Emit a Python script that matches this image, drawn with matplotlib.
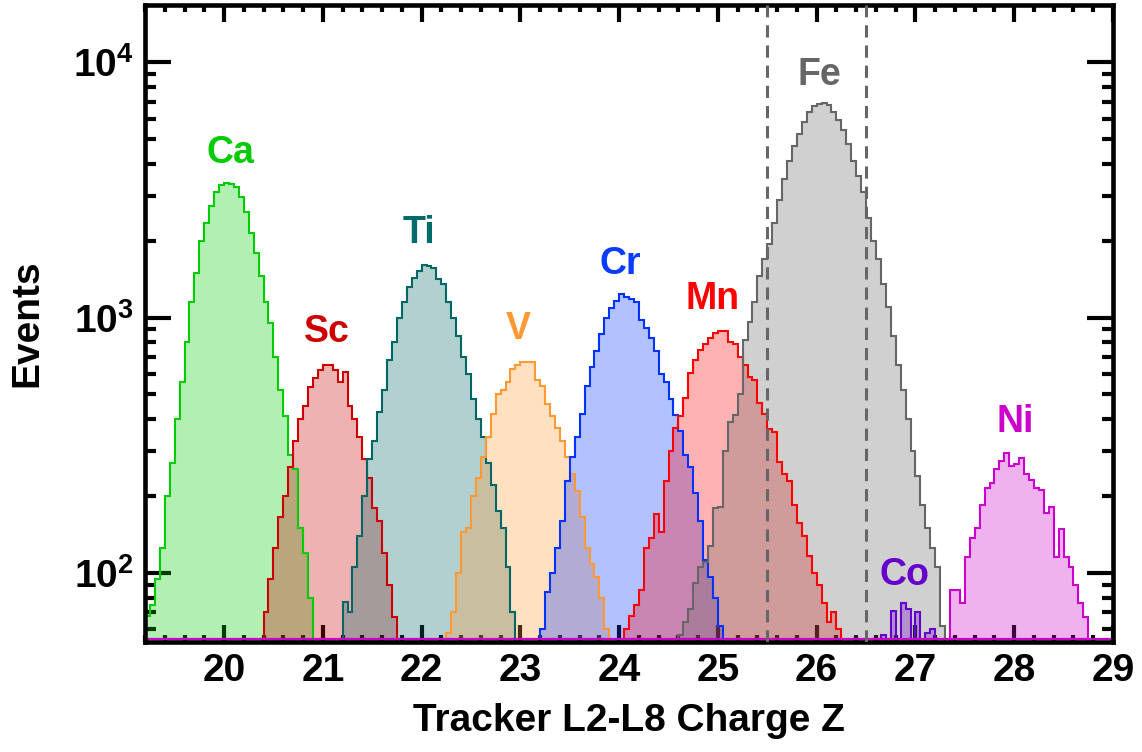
#!/usr/bin/env python3
"""
Tracker L2-L8 charge distributions for Z = 20..28 (Ca to Ni), log scale.
"""

import numpy as np
import matplotlib
matplotlib.use("Agg")
import matplotlib.pyplot as plt

plt.rcParams['font.family'] = ['Liberation Sans', 'DejaVu Sans']
plt.rcParams['font.weight'] = 'bold'
plt.rcParams['mathtext.fontset'] = 'custom'
plt.rcParams['mathtext.rm'] = 'Liberation Sans:bold'
plt.rcParams['mathtext.bf'] = 'Liberation Sans:bold'

BIN_WIDTH = 0.05

# element names, colours and where each histogram starts (Z of the first bin)
elements = ['Ca', 'Sc', 'Ti', 'V', 'Cr', 'Mn', 'Fe', 'Co', 'Ni']
colors = ['#00cc00', '#cc0000', '#006666', '#ff9933', '#0033ff',
          '#ff0000', '#666666', '#6600cc', '#cc00cc']
label_colors = ['#00cc00', '#cc0000', '#006b6b', '#ff9933', '#0a3cff',
                '#ff0000', '#666666', '#6600cc', '#cc00cc']
first_bin = [19.20, 20.40, 21.20, 22.25, 23.20, 24.05, 24.60, 26.60, 27.35]

# bin contents (events per 0.05 in Z)
ca_counts = [68, 75, 95, 125, 200, 270, 400, 560, 800, 1150, 1500, 2000,
             2350, 2750, 3100, 3300, 3380, 3350, 3250, 2980, 2600, 2150,
             1800, 1450, 1150, 950, 700, 520, 410, 290, 255, 150, 120, 80]
sc_counts = [70, 95, 125, 165, 200, 260, 330, 400, 450, 535, 580, 625, 650,
             655, 625, 560, 610, 450, 400, 340, 280, 235, 180, 160, 120, 90,
             67]
ti_counts = [77, 70, 105, 140, 200, 280, 330, 425, 520, 680, 800, 1000,
             1150, 1320, 1430, 1530, 1610, 1600, 1560, 1420, 1360, 1150,
             1000, 850, 700, 600, 480, 400, 340, 270, 220, 175, 150, 105, 70]
v_counts = [58, 70, 100, 145, 150, 200, 235, 285, 340, 420, 500, 520, 560,
            630, 650, 670, 670, 672, 570, 540, 460, 410, 370, 330, 285, 245,
            210, 165, 125, 108, 96, 80, 60]
cr_counts = [60, 84, 100, 125, 160, 230, 285, 340, 420, 540, 640, 740, 860,
             1000, 1090, 1160, 1240, 1200, 1180, 1150, 980, 910, 830, 740,
             600, 560, 480, 415, 360, 290, 260, 205, 160, 112, 96, 80, 62]
mn_counts = [60, 68, 75, 86, 125, 137, 170, 145, 230, 300, 370, 410, 485,
             605, 680, 745, 790, 830, 870, 885, 890, 800, 790, 700, 655, 585,
             570, 465, 420, 365, 355, 273, 245, 230, 185, 157, 140, 116, 100,
             90, 76, 64, 70, 60]
fe_counts = [57, 64, 72, 91, 105, 110, 128, 180, 181, 300, 390, 415, 500,
             820, 960, 1150, 1450, 1700, 1950, 2350, 2900, 3500, 4100, 4700,
             5250, 5850, 6400, 6750, 6900, 6960, 6800, 6400, 5950, 5450, 4800,
             4100, 3600, 3100, 2450, 2000, 1700, 1350, 1100, 850, 650, 520,
             400, 300, 240, 185, 150, 125, 105, 62]
co_counts = [55, 57, 40, 71, 55, 76, 72, 50, 70, 45, 58, 60, 40]
ni_counts = [86, 86, 76, 115, 137, 150, 185, 215, 225, 255, 275, 295, 262,
             268, 283, 245, 232, 215, 212, 172, 181, 115, 148, 115, 105, 90,
             76, 67]
all_counts = [ca_counts, sc_counts, ti_counts, v_counts, cr_counts,
              mn_counts, fe_counts, co_counts, ni_counts]

# text label anchors (Z, events)
label_x = [20.06, 21.04, 21.97, 22.98, 24.01, 24.95, 26.03, 26.89, 28.01]
label_y = [4400, 880, 2150, 900, 1620, 1180, 8900, 98, 390]

fe_window = [25.5, 26.5]

x_ticks = [20, 21, 22, 23, 24, 25, 26, 27, 28, 29]
y_ticks = [1e2, 1e3, 1e4]
y_tick_labels = [r'$\mathbf{10^{2}}$', r'$\mathbf{10^{3}}$', r'$\mathbf{10^{4}}$']

X_MIN, X_MAX = 19.2, 29.0
Y_MIN, Y_MAX = 53.6, 16800


fig = plt.figure(figsize=(11.42, 7.52), dpi=100)
ax = fig.add_axes([0.127, 0.1463, 0.8476, 0.8471])
ax.set_yscale('log')

for name, col, start, counts in zip(elements, colors, first_bin, all_counts):
    edges = start + BIN_WIDTH * np.arange(len(counts) + 1)
    ax.stairs(counts, edges, baseline=1, fill=True, color=col,
              alpha=0.3, linewidth=0, zorder=2.6)
    ax.stairs(counts, edges, baseline=1, fill=False, color=col,
              linewidth=1.5, zorder=2.7)

# empty bins drawn along the bottom by the last histogram
ax.axhline(Y_MIN * 1.025, color=colors[-1], linewidth=1.6, zorder=2.7)

for xv in fe_window:
    ax.axvline(xv, color='#666666', linestyle=(0, (4, 2.6)),
               linewidth=2.2, zorder=4)

for name, col, lx, ly in zip(elements, label_colors, label_x, label_y):
    ax.text(lx, ly, name, color=col, fontsize=27, fontweight='bold',
            ha='center', va='center', zorder=5)

ax.set_xlim(X_MIN, X_MAX)
ax.set_ylim(Y_MIN, Y_MAX)

ax.set_xticks(x_ticks)
ax.set_xticklabels([str(t) for t in x_ticks])
ax.xaxis.set_minor_locator(matplotlib.ticker.MultipleLocator(0.2))
ax.set_yticks(y_ticks)
ax.set_yticklabels(y_tick_labels)
ax.yaxis.set_minor_locator(matplotlib.ticker.LogLocator(base=10, subs=np.arange(2, 10)))
ax.yaxis.set_minor_formatter(matplotlib.ticker.NullFormatter())

ax.tick_params(axis='x', which='major', direction='in', top=True, bottom=True,
               length=12.5, width=3, labelsize=28, pad=8)
ax.tick_params(axis='x', which='minor', direction='in', top=True, bottom=True,
               length=5, width=3)
ax.tick_params(axis='y', which='major', direction='in', left=True, right=True,
               length=19, width=3, labelsize=28, pad=8)
ax.tick_params(axis='y', which='minor', direction='in', left=True, right=True,
               length=8, width=3)

for sp in ax.spines.values():
    sp.set_linewidth(3.3)
    sp.set_zorder(3)

ax.set_xlabel('Tracker L2-L8 Charge Z', fontsize=28, fontweight='bold', labelpad=10)
ax.set_ylabel('Events', fontsize=28, fontweight='bold', labelpad=20)

plt.savefig('out.png', dpi=100)
